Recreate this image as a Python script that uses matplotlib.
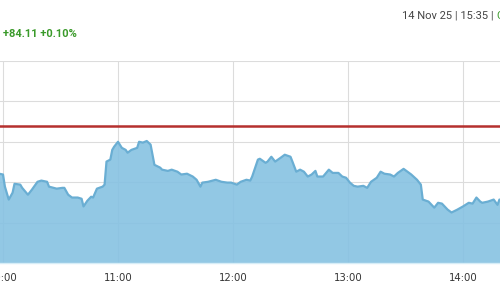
import matplotlib
matplotlib.use("Agg")
import matplotlib.pyplot as plt
import matplotlib.dates as mdates
import pandas as pd

# intraday series
times = ["09:58", "10:00", "10:01", "10:03", "10:05", "10:06", "10:09", "10:10", "10:13", "10:15",
         "10:18", "10:20", "10:23", "10:24", "10:28", "10:31", "10:32", "10:34", "10:36", "10:39",
         "10:41", "10:42", "10:44", "10:46", "10:47", "10:49", "10:52", "10:53", "10:54", "10:56",
         "10:57", "10:58", "11:00", "11:02", "11:04", "11:05", "11:07", "11:10", "11:11", "11:13",
         "11:15", "11:17", "11:18", "11:19", "11:22", "11:23", "11:26", "11:28", "11:31", "11:33",
         "11:36", "11:39", "11:41", "11:43", "11:44", "11:47", "11:51", "11:54", "11:57", "11:59",
         "12:02", "12:04", "12:07", "12:09", "12:10", "12:13", "12:14", "12:17", "12:18", "12:20",
         "12:22", "12:25", "12:27", "12:30", "12:31", "12:33", "12:35", "12:37", "12:39", "12:41",
         "12:43", "12:44", "12:47", "12:50", "12:52", "12:55", "12:57", "12:59", "13:01", "13:03",
         "13:05", "13:08", "13:10", "13:12", "13:15", "13:17", "13:19", "13:22", "13:24", "13:26",
         "13:29", "13:31", "13:33", "13:36", "13:38", "13:39", "13:42", "13:44", "13:45", "13:47",
         "13:49", "13:52", "13:54", "13:57", "14:00", "14:03", "14:05", "14:07", "14:09", "14:10",
         "14:13", "14:16", "14:18", "14:19", "14:21"]
prices = [84421, 84419, 84389, 84357, 84374, 84396, 84394, 84386, 84369, 84381,
          84401, 84404, 84401, 84389, 84384, 84386, 84386, 84369, 84362, 84362,
          84359, 84340, 84354, 84364, 84362, 84384, 84389, 84394, 84451, 84456,
          84480, 84488, 84500, 84485, 84480, 84473, 84480, 84485, 84500, 84498,
          84502, 84493, 84468, 84443, 84436, 84431, 84428, 84431, 84426, 84419,
          84421, 84414, 84406, 84389, 84399, 84401, 84406, 84401, 84399, 84399,
          84394, 84401, 84406, 84404, 84414, 84456, 84458, 84448, 84451, 84463,
          84451, 84461, 84468, 84463, 84451, 84426, 84431, 84426, 84414, 84419,
          84428, 84414, 84414, 84431, 84423, 84423, 84414, 84411, 84399, 84391,
          84389, 84391, 84386, 84401, 84411, 84426, 84421, 84419, 84414, 84423,
          84433, 84426, 84419, 84406, 84394, 84357, 84352, 84342, 84337, 84349,
          84347, 84332, 84325, 84332, 84340, 84349, 84347, 84362, 84352, 84349,
          84352, 84357, 84344, 84357, 84355]
ref_level = 84540
grid_levels = [84200, 84300, 84400, 84500, 84600, 84700]
hour_ticks = ["10:00", "11:00", "12:00", "13:00", "14:00"]

change_text = "+84.11 +0.10%"
stamp_text = "14 Nov 25 | 15:35 | "
status_text = "Close"

day = "2025-11-14 "
t = pd.to_datetime([day + s for s in times])
ticks = pd.to_datetime([day + s for s in hour_ticks])

fig = plt.figure(figsize=(5, 3), dpi=100)
ax = fig.add_axes([0, 1 - 263 / 300, 1, (263 - 61) / 300])

ax.fill_between(t, prices, grid_levels[0], color="#86c2e2", alpha=0.9, lw=0, zorder=2)
ax.plot(t, prices, color="#6aaed3", lw=1.6, zorder=3)
ax.axhline(ref_level, color="#b5302e", lw=1.8, zorder=4)

ax.set_xlim(pd.Timestamp(day + "09:58:26"), pd.Timestamp(day + "14:19:18"))
ax.set_ylim(grid_levels[0], grid_levels[-1])
ax.set_yticks(grid_levels)
ax.set_xticks(ticks)
ax.xaxis.set_major_formatter(mdates.DateFormatter("%H:%M"))
ax.tick_params(axis="x", length=0, pad=7, labelsize=7.3, labelcolor="#333333")
ax.tick_params(axis="y", length=0, labelleft=False)
ax.grid(True, color="#dcdcdc", lw=0.8, zorder=1)
ax.set_axisbelow(True)
for side in ["left", "right", "top"]:
    ax.spines[side].set_visible(False)
ax.spines["bottom"].set_color("#d6edf7")
ax.spines["bottom"].set_linewidth(1.0)

fig.text(3 / 500, 1 - 34 / 300, change_text, color="#3a9a2a", fontsize=8,
         family="Roboto", fontweight="bold", va="center", ha="left")
t1 = fig.text(402 / 500, 1 - 16 / 300, stamp_text, color="#444444", fontsize=8,
              family="Roboto", va="center", ha="left")
fig.canvas.draw()
fig.text(0, 0, "")
ax.annotate(status_text, xy=(1, 0.5), xycoords=t1, va="center", ha="left",
            color="#3a9a2a", fontsize=8, family="Roboto", annotation_clip=False)

fig.savefig("out.png", dpi=100)
